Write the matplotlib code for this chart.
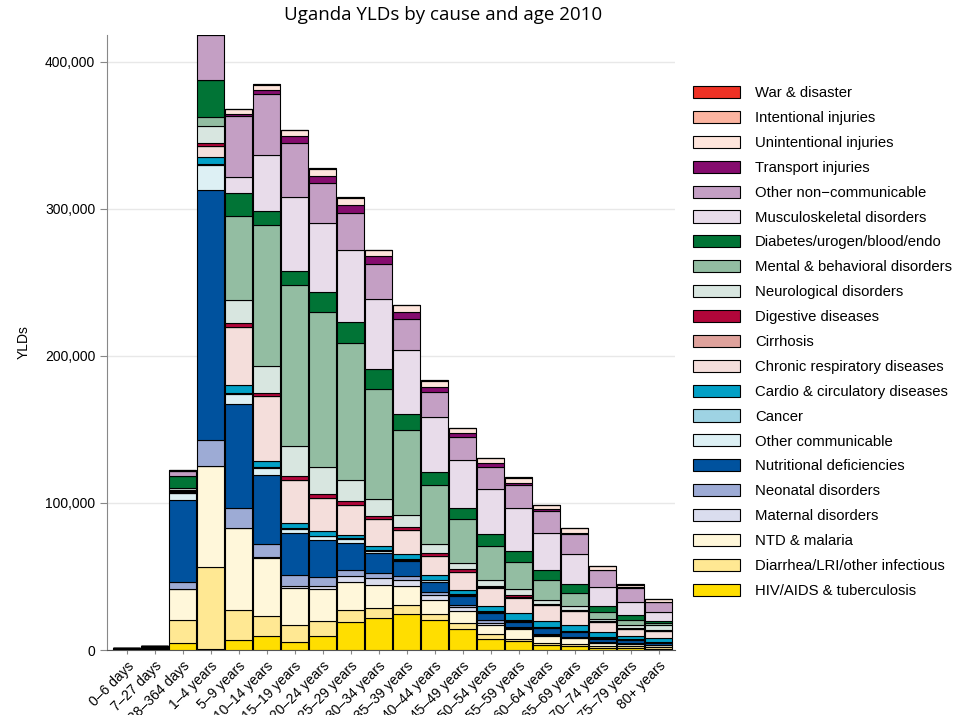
import numpy as np
import matplotlib
matplotlib.use('Agg')
import matplotlib.pyplot as plt
from matplotlib.ticker import FuncFormatter

plt.rcParams['font.family'] = ['Liberation Sans', 'DejaVu Sans']

# Yaş grupları
ages = ['0–6 days', '7–27 days', '28–364 days', '1–4 years', '5–9 years',
        '10–14 years', '15–19 years', '20–24 years', '25–29 years', '30–34 years',
        '35–39 years', '40–44 years', '45–49 years', '50–54 years', '55–59 years',
        '60–64 years', '65–69 years', '70–74 years', '75–79 years', '80+ years']

# Nedenler (alttan üste), değerler bin YLD
hiv = [0.1, 0.2, 4.6, 0.5, 7.1, 9.8, 5.3, 9.2, 18.9, 21.9, 24.6, 20.1, 14.4, 7.6, 6.0, 3.4, 2.7, 1.5, 1.6, 1.0]
diarrhea = [0.3, 0.6, 15.7, 56.0, 20.3, 13.6, 11.4, 10.2, 8.4, 6.8, 5.7, 4.5, 4.1, 3.4, 1.6, 1.6, 1.4, 1.0, 1.1, 1.0]
ntd = [0.2, 0.5, 21.1, 68.8, 55.5, 39.1, 25.3, 21.8, 18.8, 15.7, 12.9, 9.1, 7.7, 6.1, 6.5, 4.5, 4.0, 2.3, 1.6, 1.4]
maternal = [0, 0, 0, 0, 0, 0.8, 1.2, 2.2, 3.9, 4.4, 4.1, 3.9, 2.7, 1.5, 0.8, 0.5, 0.3, 0.2, 0.1, 0.1]
neonatal = [0.4, 0.6, 4.5, 17.3, 13.6, 9.0, 8.0, 6.1, 4.6, 3.5, 2.7, 1.7, 1.8, 1.5, 0.8, 0.6, 0.5, 0.4, 0.3, 0.2]
nutritional = [0.1, 0.4, 55.8, 170.0, 70.9, 46.5, 28.5, 25.5, 18.3, 13.6, 10.4, 6.8, 5.9, 5.2, 3.6, 4.1, 3.4, 2.3, 1.8, 1.4]
other_comm = [0, 0.1, 4.8, 17.4, 6.8, 5.1, 2.7, 2.2, 2.7, 1.3, 1.0, 1.2, 0.6, 0.5, 0.6, 0.5, 0.4, 0.4, 0.3, 0.3]
cancer = [0, 0, 0.2, 0.5, 0.3, 0.3, 0.3, 0.4, 0.4, 1.0, 0.6, 0.5, 0.7, 0.6, 0.5, 0.5, 0.5, 0.5, 0.4, 0.3]
cardio = [0, 0, 0.5, 4.5, 5.9, 4.4, 3.4, 3.0, 2.3, 2.4, 3.0, 2.9, 3.2, 3.8, 4.6, 4.1, 4.1, 3.4, 2.3, 2.7]
chronic_resp = [0, 0, 1.0, 7.3, 39.2, 44.0, 29.5, 22.7, 20.2, 18.2, 16.3, 12.9, 11.6, 11.9, 10.6, 10.6, 8.9, 7.0, 5.0, 4.5]
cirrhosis = [0, 0, 0, 0, 0, 0, 0.2, 0.3, 0.4, 0.5, 0.5, 0.5, 0.5, 0.4, 0.4, 0.3, 0.3, 0.2, 0.1, 0.1]
digestive = [0, 0, 0.3, 2.2, 2.4, 2.2, 2.7, 2.3, 2.4, 1.5, 1.8, 1.9, 1.6, 1.0, 1.1, 0.7, 0.6, 0.5, 0.4, 0.5]
neurological = [0, 0, 1.5, 11.4, 16.0, 18.2, 20.0, 18.6, 14.3, 12.1, 8.4, 6.1, 4.5, 4.0, 4.1, 2.7, 2.7, 1.6, 2.3, 3.5]
mental = [0, 0, 0.4, 6.2, 57.3, 95.9, 109.5, 105.4, 93.0, 74.8, 57.4, 39.8, 29.9, 23.4, 18.6, 13.2, 9.2, 4.8, 3.4, 1.4]
diabetes = [0, 0, 8.0, 25.6, 15.6, 9.2, 9.5, 13.2, 14.1, 13.4, 11.3, 9.1, 7.0, 7.7, 7.3, 6.8, 5.8, 3.8, 3.0, 1.4]
musculo = [0, 0, 0.2, 0, 10.8, 38.3, 50.6, 47.2, 49.4, 47.6, 43.5, 37.2, 33.0, 30.8, 29.5, 25.4, 20.2, 13.2, 9.1, 6.3]
other_ncd = [0.1, 0.1, 3.0, 30.1, 41.3, 41.3, 36.8, 27.0, 24.7, 23.4, 20.9, 17.3, 15.6, 15.2, 15.8, 14.7, 13.8, 11.0, 9.3, 6.6]
transport = [0, 0, 0.2, 0.8, 1.6, 3.3, 4.5, 5.1, 5.7, 5.6, 4.5, 3.4, 2.5, 2.3, 1.4, 1.6, 1.0, 0.5, 0.4, 0.2]
unintentional = [0.1, 0.2, 0.5, 1.2, 3.3, 3.3, 3.9, 4.6, 4.6, 3.9, 4.6, 4.3, 3.4, 3.4, 3.4, 2.9, 2.9, 2.3, 2.0, 1.8]
intentional = [0, 0, 0, 0.1, 0.2, 0.3, 0.5, 0.6, 0.6, 0.5, 0.4, 0.3, 0.3, 0.2, 0.2, 0.1, 0.1, 0.1, 0.1, 0.1]
war = [0] * 20

causes = ['HIV/AIDS & tuberculosis', 'Diarrhea/LRI/other infectious', 'NTD & malaria',
          'Maternal disorders', 'Neonatal disorders', 'Nutritional deficiencies',
          'Other communicable', 'Cancer', 'Cardio & circulatory diseases',
          'Chronic respiratory diseases', 'Cirrhosis', 'Digestive diseases',
          'Neurological disorders', 'Mental & behavioral disorders',
          'Diabetes/urogen/blood/endo', 'Musculoskeletal disorders',
          'Other non−communicable', 'Transport injuries', 'Unintentional injuries',
          'Intentional injuries', 'War & disaster']
series = [hiv, diarrhea, ntd, maternal, neonatal, nutritional, other_comm, cancer,
          cardio, chronic_resp, cirrhosis, digestive, neurological, mental, diabetes,
          musculo, other_ncd, transport, unintentional, intentional, war]
colors = ['#FFDE00', '#FFE893', '#FFF7DA', '#DADDEE', '#9DABD5', '#00529E',
          '#DDF0F4', '#9ED3E3', '#02A0C6', '#F4DEDB', '#DFA29C', '#B1063A',
          '#D8E6E0', '#93BDA2', '#017436', '#E8DCEA', '#C49FC4', '#850C6E',
          '#FEE5DC', '#FBB4A0', '#EE3124']

fig = plt.figure(figsize=(9.65, 7.15), dpi=100)
ax = fig.add_axes([0.1109, 0.0909, 0.5886, 0.860])

x = np.arange(len(ages))
bottom = np.zeros(len(ages))
handles = []
for name, vals, col in zip(causes, series, colors):
    v = np.array(vals) * 1000
    b = ax.bar(x, v, width=0.97, bottom=bottom, color=col, edgecolor='black',
               linewidth=0.8, label=name, zorder=3)
    handles.append(b)
    bottom += v

ax.set_xlim(-0.70, 19.59)
ax.set_ylim(0, 418000)
ax.set_yticks([0, 100000, 200000, 300000, 400000])
ax.yaxis.set_major_formatter(FuncFormatter(lambda v, p: f'{int(v):,}'))
ax.grid(axis='y', color='#E8E8E8', linewidth=1, zorder=0)
ax.set_axisbelow(True)

ax.set_xticks(x)
ax.set_xticklabels(ages, rotation=45, ha='right', rotation_mode='anchor', fontsize=10)
ax.tick_params(axis='y', labelsize=10, color='#888888', length=5)
ax.tick_params(axis='x', color='#888888', length=3)
for s in ['top', 'right']:
    ax.spines[s].set_visible(False)
ax.spines['left'].set_color('#888888')
ax.spines['bottom'].set_color('#555555')
ax.set_ylabel('YLDs', fontsize=10, labelpad=10)

fig.text(0.459, 0.979, 'Uganda YLDs by cause and age 2010', ha='center', va='center',
         fontsize=13.5, family=['Open Sans', 'DejaVu Sans'])

fig.legend(handles[::-1], causes[::-1], loc='upper left',
           bbox_to_anchor=(693 / 965, 1 - 86 / 715), frameon=False, fontsize=10.7,
           handlelength=3.16, handleheight=0.875, labelspacing=0.72,
           handletextpad=1.0, borderpad=0, borderaxespad=0)

plt.savefig('out.png', dpi=100)
